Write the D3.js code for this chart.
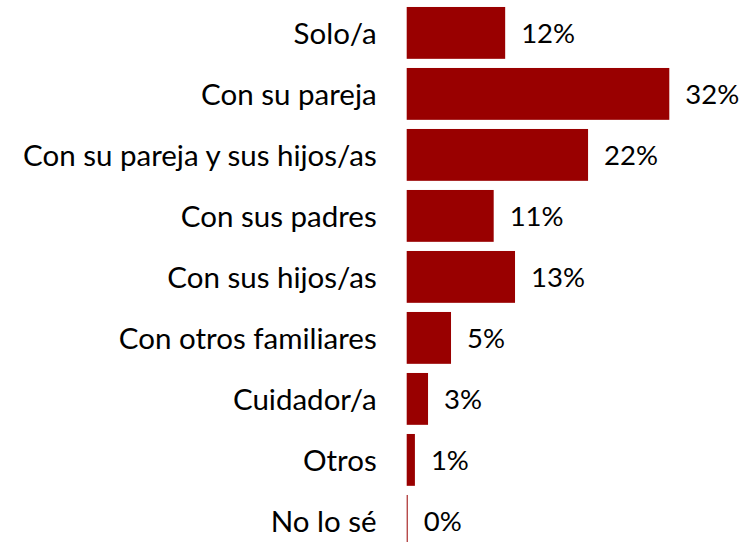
<!DOCTYPE html>
<html>
<head>
<meta charset="utf-8">
<script src="https://cdn.jsdelivr.net/npm/d3@7"></script>
<style>
  body { margin: 0; background: #fff; }
  text { font-family: Lato, "Open Sans", sans-serif; fill: #000; }
</style>
</head>
<body>
<svg id="chart"></svg>
<script>
var categories = [
    "Solo/a",
    "Con su pareja",
    "Con su pareja y sus hijos/as",
    "Con sus padres",
    "Con sus hijos/as",
    "Con otros familiares",
    "Cuidador/a",
    "Otros",
    "No lo sé"
];

var values = [12, 32, 22.1, 10.6, 13.2, 5.4, 2.6, 1.0, 0.1];

var valueLabels = ["12%", "32%", "22%", "11%", "13%", "5%", "3%", "1%", "0%"];

var dimensions = {
    width: 743,
    height: 542,
    axisX: 406.7,
    top: 2.4,
    step: 61
};

var svg = d3.select("#chart")
            .attr("width", dimensions.width)
            .attr("height", dimensions.height)

var xScale = d3.scaleLinear()
                .domain([0, 32])
                .range([dimensions.axisX, 669.3])

var yScale = d3.scaleBand()
                .domain(categories)
                .range([dimensions.top, dimensions.top + categories.length * dimensions.step])
                .paddingInner(0.15)
                .paddingOuter(0.075)

// bars
svg.selectAll(".bar")
    .data(values)
    .enter()
    .append("rect")
    .attr("class", "bar")
    .attr("x", xScale(0))
    .attr("y", function(d, i) { return yScale(categories[i]) })
    .attr("width", function(d) { return Math.max(1, xScale(d) - xScale(0)) })
    .attr("height", yScale.bandwidth())
    .style("fill", "#990000")

// category labels
var yAxis = svg.append("g")
    .attr("transform", `translate(${dimensions.axisX},0)`)
    .call(d3.axisLeft(yScale).tickSize(0).tickPadding(30))

yAxis.select(".domain").remove()
yAxis.selectAll("text")
    .style("font-family", "Lato, 'Open Sans', sans-serif")
    .style("font-size", "29.5px")
    .attr("dy", "0.36em")
    .attr("fill", "#000")

// value labels
svg.selectAll(".value")
    .data(values)
    .enter()
    .append("text")
    .attr("class", "value")
    .attr("x", function(d) { return Math.max(xScale(d), xScale(0) + 1) + 16 })
    .attr("y", function(d, i) { return yScale(categories[i]) + yScale.bandwidth() / 2 })
    .attr("dy", "0.38em")
    .style("font-size", "27.5px")
    .text(function(d, i) { return valueLabels[i] })
</script>
</body>
</html>
